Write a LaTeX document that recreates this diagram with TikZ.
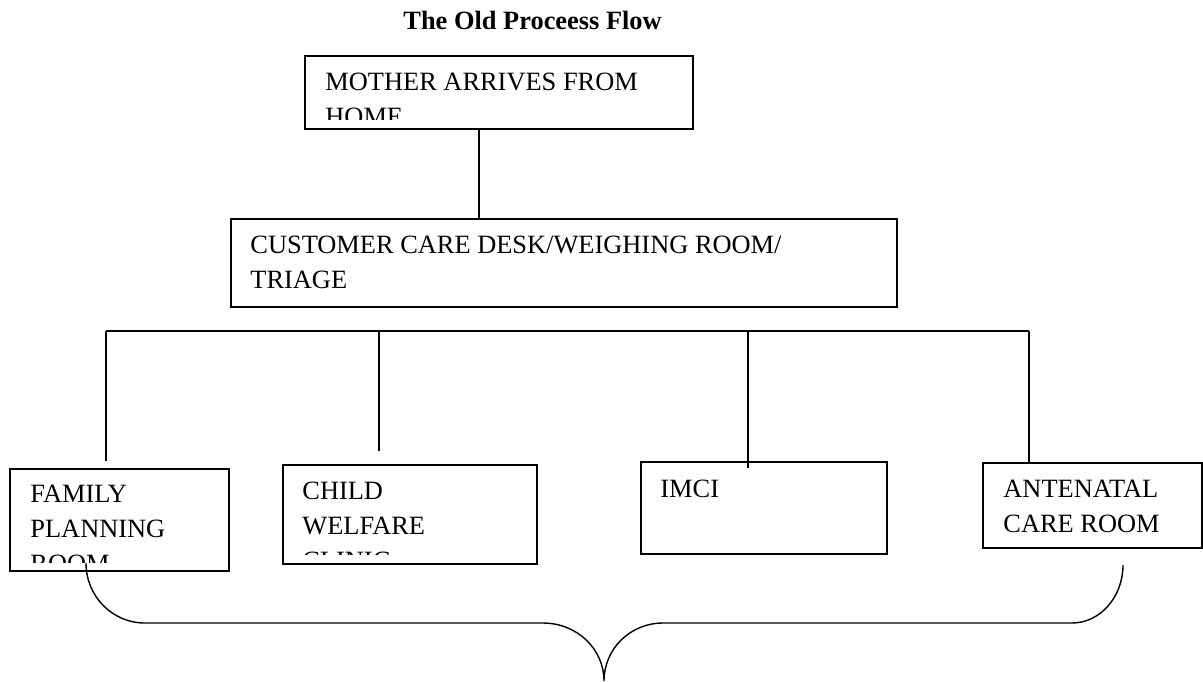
\documentclass[tikz,border=0pt]{standalone}
\usepackage{fontspec}
\setmainfont{Liberation Serif}
\usetikzlibrary{positioning, fit, calc}

\begin{document}
\begin{tikzpicture}[x=0.5pt, y=-0.5pt]
  \tikzstyle{block} = [rectangle, draw=black, line width=1pt, inner sep=0pt]
  \tikzstyle{blocktext} = [anchor=base west, inner sep=0pt, align=left, font=\fontsize{13.2}{17.5}\selectfont]
  \tikzstyle{link} = [line width=0.8pt]
  \useasboundingbox (0,0) rectangle (1203,681);
  \node (title) [blocktext, font=\fontsize{13.2}{17.5}\selectfont\bfseries] at (403,29) {The Old Proceess Flow};
  % boxes
  \node (home) [block, fit={(305,56) (693,129)}] {};
  \node (care) [block, fit={(231,219) (897,307)}] {};
  \node (fam) [block, fit={(10,469) (229,571)}] {};
  \node (child) [block, fit={(283,465) (537,564)}] {};
  \node (imci) [block, fit={(641,462) (887,554)}] {};
  \node (ante) [block, fit={(983,463) (1202,548)}] {};
  % texts (base = last line)
  \begin{scope}
    \clip (home.north west) rectangle ([yshift=5.5pt]home.south east);
    \node (hometext) [blocktext] at ([xshift=10.5pt, yshift=-35pt]home.north west) {MOTHER ARRIVES FROM\\HOME};
  \end{scope}
  \node (caretext) [blocktext] at ([xshift=10pt, yshift=-35pt]care.north west) {CUSTOMER CARE DESK/WEIGHING ROOM/\\TRIAGE};
  \begin{scope}
    \clip (fam.north west) rectangle ([yshift=5pt]fam.south east);
    \node (famtext) [blocktext] at ([xshift=10.5pt, yshift=-52pt]fam.north west) {FAMILY\\PLANNING\\ROOM};
  \end{scope}
  \begin{scope}
    \clip (child.north west) rectangle ([yshift=5.5pt]child.south east);
    \node (childtext) [blocktext] at ([xshift=10pt, yshift=-52.5pt]child.north west) {CHILD\\WELFARE\\CLINIC};
  \end{scope}
  \node (imcitext) [blocktext] at ([xshift=10pt, yshift=-18pt]imci.north west) {IMCI};
  \node (antetext) [blocktext] at ([xshift=10.5pt, yshift=-35pt]ante.north west) {ANTENATAL\\CARE ROOM};
  % connectors
  \coordinate (jhome) at (479,129);
  \coordinate (jfam) at (106,331);
  \coordinate (jchild) at (379,331);
  \coordinate (jimci) at (748,331);
  \coordinate (jante) at (1029,331);
  \draw[link] (jhome) -- (jhome |- care.north);
  \draw[link] (jfam) -- (jante);
  \draw[link] (jfam) -- ([yshift=3.5pt]jfam |- fam.north);
  \draw[link] (jchild) -- ([yshift=6.5pt]jchild |- child.north);
  \draw[link] (jimci) -- ([yshift=-3.5pt]jimci |- imci.north);
  \draw[link] (jante) -- (jante |- ante.north);
  % brace
  \coordinate (bl) at (86,563);
  \coordinate (bm) at (604,681);
  \coordinate (br) at (1123,565);
  \draw[line width=0.7pt] (bl) .. controls (86,596) and (112,623) .. (145,623) -- (543,623)
    .. controls (577,623) and (604,649) .. (bm) .. controls (604,649) and (630,623) .. (663,623)
    -- (1072,623) .. controls (1100,623) and (1123,597) .. (br);
\end{tikzpicture}
\end{document}
